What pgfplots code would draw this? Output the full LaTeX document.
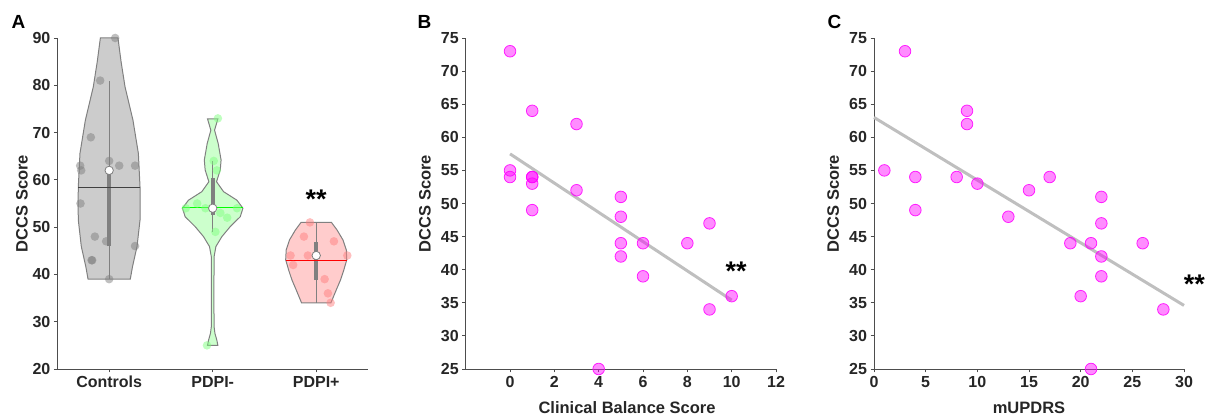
\documentclass[border=0pt]{standalone}
\usepackage{pgfplots}
\pgfplotsset{compat=1.18}
\usepackage{fontspec}
\setmainfont{Liberation Sans}
\definecolor{axgray}{HTML}{4D4D4D}
\definecolor{txt}{HTML}{262626}
\definecolor{vgray}{HTML}{808080}
\definecolor{fgray}{HTML}{CCCCCC}
\definecolor{fgreen}{HTML}{CCFFCC}
\definecolor{fred}{HTML}{FFCCCC}
\definecolor{pgreen}{HTML}{80FF80}
\definecolor{pred}{HTML}{FF8080}
\definecolor{regl}{HTML}{BFBFBF}
\definecolor{mag}{HTML}{FF00FF}
\pgfplotsset{
  mystyle/.style={
    scale only axis,
    axis x line*=bottom, axis y line*=left,
    tick align=outside, major tick length=3.5pt,
    axis line style={axgray, line width=0.8pt},
    tick style={axgray, line width=0.8pt},
    ticklabel style={font=\fontsize{16}{18}\selectfont\bfseries, text=txt},
    label style={font=\fontsize{16.5}{19}\selectfont\bfseries, text=txt},
    /pgf/number format/assume math mode=true,
    clip=false,
  },
  sc/.style={only marks, mark=*, mark size=5.8pt, color=mag,
    mark options={fill=mag, fill opacity=0.45, draw=mag, draw opacity=0.85, line width=0.8pt}},
}
\begin{document}
\begin{tikzpicture}
\useasboundingbox (0,0) rectangle (1208pt,420pt);
% ---------------- Panel A ----------------
\begin{axis}[mystyle,
  at={(57.4pt,51pt)}, anchor=south west,
  width=310.6pt, height=331pt,
  xmin=0.5, xmax=3.5, ymin=20, ymax=90,
  xtick={1,2,3}, xticklabels={Controls,PDPI-,PDPI+},
  ytick={20,30,...,90},
  ylabel={DCCS Score},
  ylabel style={at={(axis description cs:-0.114,0.5)}, anchor=center},
]
% violins
\addplot[fill=fgray, draw=vgray, line width=1pt] coordinates {
 (1.204,39) (1.225,41.6) (1.269,45.9) (1.298,51.5) (1.300,55) (1.298,58.5)
 (1.282,65.6) (1.230,72.6) (1.153,79.7) (1.115,85) (1.085,90)
 (0.915,90) (0.885,85) (0.847,79.7) (0.770,72.6) (0.718,65.6) (0.702,58.5)
 (0.700,55) (0.702,51.5) (0.731,45.9) (0.775,41.6) (0.796,39)} -- cycle;
\addplot[fill=fgreen, draw=vgray, line width=1pt] coordinates {
 (2.050,25.0) (2.040,26.1) (2.022,27.5) (2.013,29.0) (2.012,35.0) (2.013,43.7)
 (2.031,45.9) (2.089,48.0) (2.169,50.1) (2.266,52.2) (2.292,54.0) (2.234,55.7)
 (2.105,57.5) (2.037,59.6) (2.073,62.1) (2.081,64.2) (2.053,67.7) (2.018,70.5)
 (2.050,72.9)
 (1.950,72.9) (1.982,70.5) (1.947,67.7) (1.919,64.2) (1.927,62.1) (1.963,59.6)
 (1.895,57.5) (1.766,55.7) (1.708,54.0) (1.734,52.2) (1.831,50.1) (1.911,48.0)
 (1.969,45.9) (1.987,43.7) (1.988,35.0) (1.987,29.0) (1.978,27.5) (1.960,26.1)
 (1.950,25.0)} -- cycle;
\addplot[fill=fred, draw=vgray, line width=1pt] coordinates {
 (3.142,34.0) (3.193,36.7) (3.234,38.8) (3.266,40.9) (3.295,43.1) (3.290,45.2)
 (3.258,47.3) (3.201,49.4) (3.147,51.0)
 (2.853,51.0) (2.799,49.4) (2.742,47.3) (2.710,45.2) (2.705,43.1) (2.734,40.9)
 (2.766,38.8) (2.807,36.7) (2.858,34.0)} -- cycle;
% data points
\addplot[only marks, mark=*, mark size=4.3pt, color=vgray,
  mark options={fill=vgray, draw=vgray, draw opacity=0, fill opacity=0.5, line width=0pt}] coordinates {
 (1.058,90) (0.913,81) (0.823,69) (0.720,63) (0.730,62) (1.000,64) (1.097,63)
 (1.250,63) (0.723,55) (0.862,48) (0.971,47) (1.250,46) (0.830,43) (0.836,43) (1.000,39)};
\addplot[only marks, mark=*, mark size=4.3pt, color=pgreen,
  mark options={fill=pgreen, draw=pgreen, draw opacity=0, fill opacity=0.5, line width=0pt}] coordinates {
 (2.05,73) (2.01,64) (2.04,62) (1.85,55) (1.74,54) (1.93,54) (2.235,54)
 (2.074,53) (2.14,52) (2.026,49) (1.945,25)};
\addplot[only marks, mark=*, mark size=4.3pt, color=pred,
  mark options={fill=pred, draw=pred, draw opacity=0, fill opacity=0.5, line width=0pt}] coordinates {
 (2.939,51) (2.881,48) (3.171,47) (2.752,44) (2.919,44) (3.300,44)
 (2.777,42) (3.081,39) (3.113,36) (3.139,34)};
% whiskers and boxes
\addplot[vgray, line width=1.2pt] coordinates {(1,39) (1,81)};
\addplot[vgray, line width=1.2pt] coordinates {(2,49) (2,64)};
\addplot[vgray, line width=1.2pt] coordinates {(3,34) (3,51)};
\addplot[vgray, line width=4pt] coordinates {(1,46) (1,62)};
\addplot[vgray, line width=4pt] coordinates {(2,52.6) (2,60.3)};
\addplot[vgray, line width=4pt] coordinates {(3,38.8) (3,46.9)};
% mean lines
\addplot[black!75, line width=1.2pt] coordinates {(0.702,58.4) (1.298,58.4)};
\addplot[green, line width=1.2pt] coordinates {(1.708,54.1) (2.292,54.1)};
\addplot[red, line width=1.2pt] coordinates {(2.705,42.9) (3.295,42.9)};
% medians
\addplot[only marks, mark=*, mark size=4.2pt, color=vgray, mark options={fill=white, draw=vgray, line width=0.8pt}] coordinates {(1,62) (2,54) (3,44)};
\node[font=\fontsize{27}{29}\selectfont\bfseries, text=black, yshift=-5pt] at (axis cs:3,57) {**};
\end{axis}
% ---------------- Panel B ----------------
\begin{axis}[mystyle,
  at={(465.7pt,51pt)}, anchor=south west,
  width=310.3pt, height=331pt,
  xmin=-2, xmax=12, ymin=25, ymax=75,
  xtick={0,2,...,12}, ytick={25,30,...,75},
  xlabel={Clinical Balance Score}, ylabel={DCCS Score},
  xlabel style={at={(axis description cs:0.52,-0.118)}, anchor=center},
  ylabel style={at={(axis description cs:-0.131,0.5)}, anchor=center},
]
\addplot[sc] coordinates {
 (0,73) (0,55) (0,54) (1,64) (1,54) (1,54) (1,53) (1,49) (3,62) (3,52) (4,25)
 (5,51) (5,48) (5,44) (5,42) (6,44) (6,39) (8,44) (9,47) (9,34) (10,36)};
\addplot[regl, line width=3pt] coordinates {(0,57.5) (10,35.4)};
\node[font=\fontsize{27}{29}\selectfont\bfseries, text=black, yshift=-5pt] at (axis cs:10.2,40.6) {**};
\end{axis}
% ---------------- Panel C ----------------
\begin{axis}[mystyle,
  at={(874pt,51pt)}, anchor=south west,
  width=310pt, height=331pt,
  xmin=0, xmax=30, ymin=25, ymax=75,
  xtick={0,5,...,30}, ytick={25,30,...,75},
  xlabel={mUPDRS}, ylabel={DCCS Score},
  xlabel style={at={(axis description cs:0.5,-0.118)}, anchor=center},
  ylabel style={at={(axis description cs:-0.132,0.5)}, anchor=center},
]
\addplot[sc] coordinates {
 (1,55) (3,73) (4,54) (4,49) (8,54) (9,64) (9,62) (10,53) (13,48) (15,52) (17,54)
 (19,44) (20,36) (21,44) (21,25) (22,51) (22,47) (22,42) (22,39) (26,44) (28,34)};
\addplot[regl, line width=3pt] coordinates {(0,63.0) (30,34.6)};
\node[font=\fontsize{27}{29}\selectfont\bfseries, text=black, yshift=-5pt] at (axis cs:31.0,38.5) {**};
\end{axis}
% panel letters
\node[font=\fontsize{19}{21}\selectfont\bfseries, text=black] at (18.5pt,398.5pt) {A};
\node[font=\fontsize{19}{21}\selectfont\bfseries, text=black] at (424.5pt,398.5pt) {B};
\node[font=\fontsize{19}{21}\selectfont\bfseries, text=black] at (834.5pt,398.5pt) {C};
\end{tikzpicture}
\end{document}
